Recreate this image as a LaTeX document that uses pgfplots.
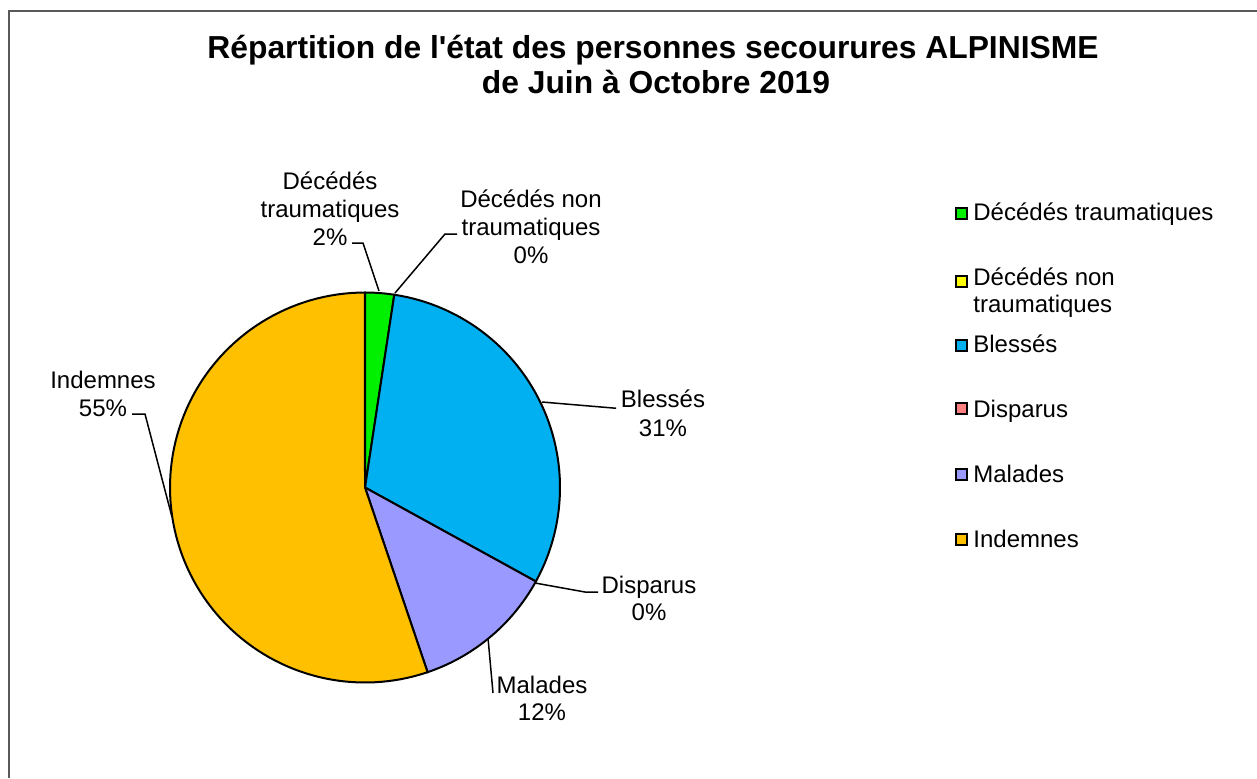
\documentclass[border=0pt]{standalone}
\usepackage{fontspec}
\setmainfont{Liberation Sans}
\newfontfamily\plainsans{Liberation Sans}[BoldFont=Liberation Sans Bold]
\usepackage{pgfplots}
\pgfplotsset{compat=1.18}
\definecolor{cGreen}{RGB}{0,240,0}
\definecolor{cYellow}{RGB}{255,255,0}
\definecolor{cBlue}{RGB}{0,176,240}
\definecolor{cPink}{RGB}{255,128,128}
\definecolor{cLav}{RGB}{153,153,255}
\definecolor{cOrange}{RGB}{255,192,0}
% shares (percent)
\def\vA{2.4}   % Décédés traumatiques
\def\vB{0}     % Décédés non traumatiques
\def\vC{30.6}  % Blessés
\def\vD{0}     % Disparus
\def\vE{11.8}  % Malades
\def\vF{55.2}  % Indemnes
\pgfmathsetmacro{\aA}{0}
\pgfmathsetmacro{\aB}{\aA+3.6*\vA}
\pgfmathsetmacro{\aC}{\aB+3.6*\vB}
\pgfmathsetmacro{\aD}{\aC+3.6*\vC}
\pgfmathsetmacro{\aE}{\aD+3.6*\vD}
\pgfmathsetmacro{\aF}{\aE+3.6*\vE}
\pgfmathsetmacro{\aG}{\aF+3.6*\vF}
\newcommand{\body}{\fontsize{12}{14}\selectfont}
\begin{document}
\begin{tikzpicture}
\useasboundingbox (0,0) rectangle (628.5pt,389pt);
\begin{axis}[at={(0,0)}, anchor=south west, width=628.5pt, height=389pt,
  scale only axis, xmin=0, xmax=1257, ymin=0, ymax=778, y dir=reverse,
  hide axis, clip=false]
% chart frame
\draw[black!65, line width=1pt] (axis cs:9,778) -- (axis cs:9,11) -- (axis cs:1257,11);
% slices
\addplot[fill=cGreen, draw=black, line width=1pt, domain=\aA:\aB, samples=10, variable=\t]
  ({365+195*sin(\t)},{487.5-195*cos(\t)}) -- (axis cs:365,487.5) -- cycle;
\addplot[fill=cBlue, draw=black, line width=1pt, domain=\aC:\aD, samples=60, variable=\t]
  ({365+195*sin(\t)},{487.5-195*cos(\t)}) -- (axis cs:365,487.5) -- cycle;
\addplot[fill=cLav, draw=black, line width=1pt, domain=\aE:\aF, samples=30, variable=\t]
  ({365+195*sin(\t)},{487.5-195*cos(\t)}) -- (axis cs:365,487.5) -- cycle;
\addplot[fill=cOrange, draw=black, line width=1pt, domain=\aF:\aG, samples=100, variable=\t]
  ({365+195*sin(\t)},{487.5-195*cos(\t)}) -- (axis cs:365,487.5) -- cycle;
% leader lines
\draw[black, line width=0.75pt] (axis cs:352,243) -- (axis cs:363,243) -- (axis cs:379,291);
\draw[black, line width=0.75pt] (axis cs:395,293) -- (axis cs:445,234) -- (axis cs:457,234);
\draw[black, line width=0.75pt] (axis cs:542,402) -- (axis cs:613,408) -- (axis cs:616,408);
\draw[black, line width=0.75pt] (axis cs:535,583) -- (axis cs:585,592) -- (axis cs:598,592);
\draw[black, line width=0.75pt] (axis cs:488,638) -- (axis cs:493,693);
\draw[black, line width=0.75pt] (axis cs:132,414) -- (axis cs:145,414) -- (axis cs:172,517);
% data labels
\path[font=\body, inner sep=0pt]
  (axis cs:330,189) node[anchor=base] {Décédés}
  (axis cs:330,217) node[anchor=base] {traumatiques}
  (axis cs:330,245) node[anchor=base] {2\%}
  (axis cs:531,207) node[anchor=base] {Décédés non}
  (axis cs:531,235) node[anchor=base] {traumatiques}
  (axis cs:531,263) node[anchor=base] {0\%}
  (axis cs:663,407) node[anchor=base] {Blessés}
  (axis cs:663,436) node[anchor=base] {31\%}
  (axis cs:649,593) node[anchor=base] {Disparus}
  (axis cs:649,620) node[anchor=base] {0\%}
  (axis cs:542,693) node[anchor=base] {Malades}
  (axis cs:542,720) node[anchor=base] {12\%}
  (axis cs:103,388) node[anchor=base] {Indemnes}
  (axis cs:103,416) node[anchor=base] {55\%};
% title
\path[font=\plainsans\fontsize{15.9}{18}\selectfont\bfseries, inner sep=0pt]
  (axis cs:653,58) node[anchor=base] {Répartition de l'état des personnes secourures ALPINISME}
  (axis cs:656,93) node[anchor=base] {de Juin à Octobre 2019};
% legend
\draw[black, line width=0.8pt, fill=cGreen]  (axis cs:956,208) rectangle (axis cs:967,219);
\draw[black, line width=0.8pt, fill=cYellow] (axis cs:956,276) rectangle (axis cs:967,287);
\draw[black, line width=0.8pt, fill=cBlue]   (axis cs:956,340) rectangle (axis cs:967,351);
\draw[black, line width=0.8pt, fill=cPink]   (axis cs:956,403) rectangle (axis cs:967,414);
\draw[black, line width=0.8pt, fill=cLav]    (axis cs:956,469) rectangle (axis cs:967,480);
\draw[black, line width=0.8pt, fill=cOrange] (axis cs:956,534) rectangle (axis cs:967,545);
\path[font=\body, inner sep=0pt]
  (axis cs:973,220) node[anchor=base west] {Décédés traumatiques}
  (axis cs:973,285) node[anchor=base west] {Décédés non}
  (axis cs:973,312) node[anchor=base west] {traumatiques}
  (axis cs:973,352) node[anchor=base west] {Blessés}
  (axis cs:973,417) node[anchor=base west] {Disparus}
  (axis cs:973,482) node[anchor=base west] {Malades}
  (axis cs:973,547) node[anchor=base west] {Indemnes};
\end{axis}
\end{tikzpicture}
\end{document}
